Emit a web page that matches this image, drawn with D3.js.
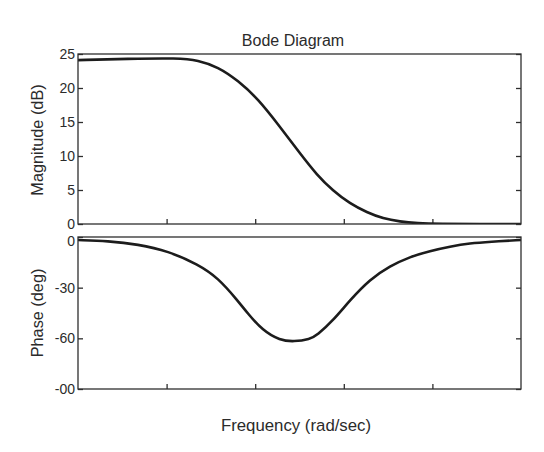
<!DOCTYPE html>
<html>
<head>
<meta charset="utf-8">
<script src="https://cdn.jsdelivr.net/npm/d3@7"></script>
<style>
  body { margin: 0; background: #fff; }
  text { font-family: "Liberation Sans", Arial, sans-serif; fill: #2b2b2b; }
</style>
</head>
<body>
<div id="my_dataviz"></div>
<script>
// frequencies (rad/sec) and values
var magFreq = [0.01, 0.0366, 0.135, 0.226, 0.38, 0.64, 1.076, 1.9, 3.2, 4.98, 7.55, 11.7, 18.3, 27.7, 43, 67, 122, 340, 1000];
var magDb   = [24.1, 24.3, 24.4, 24.1, 23.1, 21.1, 18.4, 14.3, 10.4, 7.2, 4.9, 3.0, 1.7, 0.8, 0.35, 0.12, 0.03, 0, 0];

var phaseFreq = [0.01, 0.0218, 0.0475, 0.104, 0.226, 0.38, 0.64, 0.81, 1.22, 1.9, 2.74, 4.15, 4.98, 7.55, 11.7, 19.8, 33.2, 55.8, 94, 158, 266, 447, 1000];
var phaseDeg  = [-1.8, -2.4, -4.3, -8.3, -16.2, -24.1, -37.9, -44.8, -55.5, -61.2, -62, -60.5, -58.2, -49.5, -37.5, -25, -17.2, -11.7, -8.3, -5.7, -3.7, -2.8, -1.8];

// tick values and their labels
var freqTicks = [0.1, 1, 10, 100];
var magTicks = [0, 5, 10, 15, 20, 25];
var magTickLabels = ["0", "5", "10", "15", "20", "25"];
var phaseTicks = [-90, -60, -30, 0];
var phaseTickLabels = ["-00", "-60", "-30", "0"];

var W = 544, H = 452;
var left = 78, right = 521;

var svg = d3.select("#my_dataviz")
  .append("svg")
    .attr("width", W)
    .attr("height", H);

// shared log frequency axis
var x = d3.scaleLog().domain([0.01, 1000]).range([left, right]);

var yMag = d3.scaleLinear().domain([0, 25]).range([224, 54]);
var yPhase = d3.scaleLinear().domain([-90, 0]).range([389, 237]);

var axisColor = "#2e2e2e";

function panel(y, ticks, labels, freqs, vals, id) {
  var top = y.range()[1], bottom = y.range()[0];

  svg.append("clipPath").attr("id", id)
    .append("rect")
      .attr("x", left).attr("y", top)
      .attr("width", right - left).attr("height", bottom - top);

  // left axis with labels
  var la = svg.append("g")
    .attr("transform", "translate(" + left + ",0)")
    .call(d3.axisLeft(y).tickValues(ticks)
      .tickFormat(function(d, i) { return labels[i]; })
      .tickSizeInner(-5).tickSizeOuter(0).tickPadding(3));
  // right axis ticks only
  var ra = svg.append("g")
    .attr("transform", "translate(" + right + ",0)")
    .call(d3.axisRight(y).tickValues(ticks).tickFormat("")
      .tickSizeInner(-5).tickSizeOuter(0));
  // bottom ticks
  var ba = svg.append("g")
    .attr("transform", "translate(0," + bottom + ")")
    .call(d3.axisBottom(x).tickValues(freqTicks).tickFormat("")
      .tickSizeInner(-5).tickSizeOuter(0));

  [la, ra, ba].forEach(function(a) {
    a.select(".domain").remove();
    a.selectAll("line").attr("stroke", axisColor).attr("stroke-width", 1.3);
    a.selectAll("text")
      .style("font-family", "'Liberation Sans', Arial, sans-serif")
      .style("font-size", "14px")
      .attr("fill", "#2b2b2b");
  });

  // the curve
  svg.append("path")
    .datum(freqs.map(function(f, i) { return [f, vals[i]]; }))
    .attr("clip-path", "url(#" + id + ")")
    .attr("fill", "none")
    .attr("stroke", "#1c1c1c")
    .attr("stroke-width", 2.6)
    .attr("stroke-linejoin", "round")
    .attr("d", d3.line()
      .curve(d3.curveBasis)
      .x(function(d) { return x(d[0]); })
      .y(function(d) { return y(d[1]); }));

  // box
  svg.append("rect")
    .attr("x", left).attr("y", top)
    .attr("width", right - left).attr("height", bottom - top)
    .attr("fill", "none")
    .attr("stroke", axisColor)
    .attr("stroke-width", 1.3);

  return la;
}

panel(yMag, magTicks, magTickLabels, magFreq, magDb, "clipMag");
var phaseAxis = panel(yPhase, phaseTicks, phaseTickLabels, phaseFreq, phaseDeg, "clipPhase");

// the phase "0" label sits a little below its tick, clear of the magnitude "0"
phaseAxis.selectAll(".tick text")
  .filter(function(d) { return d === 0; })
  .attr("y", 4);

// title and axis labels
svg.append("text")
  .attr("x", 293).attr("y", 46)
  .attr("text-anchor", "middle")
  .style("font-size", "16px")
  .text("Bode Diagram");

svg.append("text")
  .attr("transform", "translate(43,140) rotate(-90)")
  .attr("text-anchor", "middle")
  .style("font-size", "16.3px")
  .text("Magnitude (dB)");

svg.append("text")
  .attr("transform", "translate(43,313) rotate(-90)")
  .attr("text-anchor", "middle")
  .style("font-size", "16.3px")
  .text("Phase (deg)");

svg.append("text")
  .attr("x", 296).attr("y", 431)
  .attr("text-anchor", "middle")
  .style("font-size", "16.8px")
  .text("Frequency (rad/sec)");
</script>
</body>
</html>
